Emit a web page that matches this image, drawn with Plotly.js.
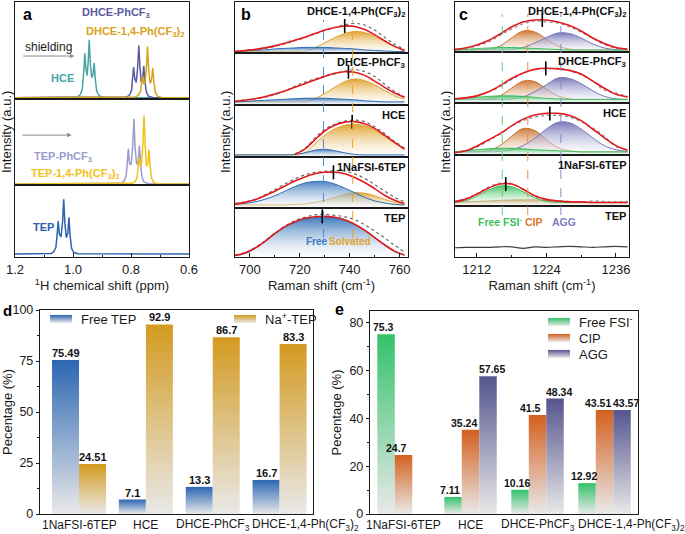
<!DOCTYPE html>
<html><head><meta charset="utf-8">
<script src="https://cdn.plot.ly/plotly-3.0.1.min.js"></script>
<style>html,body{margin:0;padding:0;background:#fff}#chart{width:685px;height:534px}</style>
</head><body><div id="chart"></div>
<script>
// ================= DATA =================
// Panel a: 1H NMR, chemical shift (ppm) and normalized intensity
const aHCE_x  = [1.2,1.0,0.985,0.975,0.968,0.963,0.959,0.955,0.9515,0.948,0.944,0.940,0.9355,0.931,0.927,0.923,0.918,0.910,0.895,0.6];
const aHCE_y  = [0.012,0.013,0.02,0.045,0.10,0.28,0.47,0.30,0.24,0.36,0.61,0.36,0.22,0.25,0.37,0.20,0.08,0.035,0.015,0.012];
const aDPh_x  = [1.2,0.83,0.815,0.805,0.798,0.795,0.791,0.787,0.782,0.777,0.773,0.769,0.7645,0.760,0.756,0.752,0.747,0.740,0.725,0.6];
const aDPh_y  = [0.012,0.013,0.02,0.04,0.09,0.20,0.33,0.21,0.17,0.33,0.55,0.32,0.17,0.21,0.34,0.18,0.07,0.03,0.015,0.012];
const aD14_x  = [1.2,0.80,0.785,0.775,0.767,0.764,0.760,0.756,0.7515,0.747,0.743,0.739,0.734,0.729,0.725,0.721,0.716,0.709,0.694,0.6];
const aD14_y  = [0.012,0.013,0.02,0.04,0.08,0.15,0.23,0.16,0.17,0.32,0.54,0.30,0.16,0.20,0.32,0.17,0.07,0.03,0.015,0.012];
const aTPh_x  = [1.2,0.85,0.835,0.825,0.817,0.813,0.809,0.805,0.7995,0.794,0.790,0.786,0.7805,0.775,0.771,0.767,0.762,0.755,0.74,0.6];
const aTPh_y  = [0.012,0.013,0.02,0.04,0.10,0.25,0.42,0.25,0.24,0.45,0.77,0.44,0.24,0.28,0.46,0.24,0.09,0.035,0.015,0.012];
const aT14_x  = [1.2,0.81,0.795,0.785,0.779,0.776,0.772,0.768,0.7635,0.759,0.755,0.751,0.7465,0.742,0.738,0.734,0.729,0.722,0.707,0.6];
const aT14_y  = [0.012,0.013,0.02,0.04,0.09,0.18,0.32,0.22,0.26,0.47,0.81,0.45,0.22,0.25,0.41,0.22,0.08,0.03,0.015,0.012];
const aTEP_x  = [1.2,1.09,1.075,1.066,1.059,1.055,1.051,1.047,1.0415,1.036,1.032,1.028,1.023,1.018,1.014,1.010,1.005,0.998,0.983,0.6];
const aTEP_y  = [0.04,0.041,0.05,0.075,0.13,0.30,0.50,0.32,0.28,0.48,0.80,0.47,0.27,0.33,0.55,0.30,0.12,0.065,0.045,0.04];

// Panel b: Raman 694-763 cm-1, normalized intensity per sample
const bX = [694,698,702,706,710,714,718,722,726,730,734,738,742,746,750,754,758,762];
const b1Free = [.03,.04,.05,.06,.08,.09,.10,.11,.11,.11,.10,.09,.08,.06,.05,.04,.03,.03];
const b1Solv = [.03,.03,.03,.03,.03,.03,.03,.03,.10,.20,.30,.38,.42,.40,.33,.23,.13,.06];
const b1Fit  = [.03,.05,.07,.10,.14,.19,.25,.31,.38,.45,.50,.53,.52,.46,.36,.24,.13,.05];
const b1Raw  = [.03,.05,.07,.09,.13,.18,.24,.30,.37,.44,.50,.55,.58,.55,.45,.31,.17,.07];
const b2Free = [.06,.07,.08,.09,.10,.11,.12,.13,.13,.13,.12,.11,.10,.08,.07,.06,.06,.06];
const b2Solv = [.06,.06,.06,.06,.06,.06,.06,.06,.12,.22,.34,.45,.50,.47,.39,.28,.18,.11];
const b2Fit  = [.07,.09,.12,.16,.21,.27,.34,.41,.48,.55,.61,.64,.63,.57,.46,.34,.23,.15];
const b2Raw  = [.07,.10,.12,.15,.20,.27,.36,.44,.50,.56,.60,.65,.68,.64,.55,.40,.26,.16];
const b3Free = [.04,.04,.04,.04,.04,.04,.05,.08,.13,.15,.12,.08,.05,.04,.04,.04,.04,.04];
const b3Solv = [.04,.04,.04,.04,.04,.04,.04,.08,.25,.42,.54,.61,.63,.60,.52,.40,.27,.15];
const b3Fit  = [null,null,null,null,null,null,.05,.15,.33,.50,.61,.67,.68,.64,.55,.42,.28,.15];
const b3Raw  = [null,null,null,null,null,null,.06,.16,.36,.53,.63,.69,.71,.68,.58,.45,.30,.17];
const b4Free = [.07,.09,.12,.17,.24,.33,.42,.49,.52,.52,.47,.39,.30,.21,.14,.10,.07,.06];
const b4Solv = [.06,.06,.06,.06,.06,.06,.07,.08,.11,.15,.21,.27,.30,.29,.24,.17,.11,.07];
const b4Fit  = [.08,.11,.16,.24,.33,.43,.53,.61,.67,.70,.70,.67,.60,.50,.38,.25,.15,.09];
const b4Raw  = [.09,.12,.17,.26,.36,.47,.57,.65,.70,.72,.73,.72,.67,.58,.46,.33,.21,.12];
const b5Free = [.03,.07,.17,.31,.47,.61,.71,.78,.81,.82,.80,.75,.66,.54,.39,.24,.11,.04];
const b5Fit  = [.03,.08,.18,.32,.48,.62,.72,.79,.82,.83,.81,.76,.67,.55,.40,.25,.12,.04];
const b5Raw  = [.04,.09,.19,.33,.49,.63,.74,.81,.86,.87,.85,.82,.76,.66,.53,.39,.24,.10];
const bLabels = ['DHCE-1,4-Ph(CF<sub>3</sub>)<sub>2</sub>','DHCE-PhCF<sub>3</sub>','HCE','1NaFSI-6TEP','TEP'];
const bPeakX = [738, 739.5, 741, 733.5, 729];
const bPeakY = [.53, .64, .68, .70, .83];
const bRefX  = [729.5, 741.2];

// Panel c: Raman 1208-1238 cm-1
const cX = [1208,1210,1212,1214,1216,1218,1220,1222,1224,1226,1228,1230,1232,1234,1236,1238];
const c1Free = [.04,.05,.07,.08,.09,.09,.08,.07,.06,.05,.04,.04,.04,.04,.04,.04];
const c1CIP  = [.04,.04,.04,.05,.12,.28,.42,.40,.26,.12,.06,.04,.04,.04,.04,.04];
const c1AGG  = [.04,.04,.04,.04,.04,.05,.09,.18,.29,.38,.37,.28,.16,.08,.05,.04];
const c1Fit  = [.05,.08,.14,.23,.36,.50,.60,.64,.64,.60,.53,.42,.28,.17,.09,.06];
const c1Raw  = [.04,.07,.12,.20,.33,.46,.56,.62,.60,.58,.50,.40,.27,.15,.08,.06];
const c2Free = [.07,.09,.11,.13,.14,.14,.13,.11,.09,.08,.07,.07,.07,.07,.07,.07];
const c2CIP  = [.07,.07,.07,.08,.14,.29,.43,.42,.28,.14,.08,.07,.07,.07,.07,.07];
const c2AGG  = [.07,.07,.07,.07,.07,.08,.12,.22,.36,.49,.48,.38,.24,.13,.08,.07];
const c2Fit  = [.08,.10,.14,.22,.34,.48,.59,.66,.68,.67,.64,.57,.43,.29,.17,.12];
const c2Raw  = [.08,.10,.13,.21,.32,.46,.58,.66,.67,.68,.63,.55,.43,.25,.20,.13];
const c3Free = [.06,.08,.10,.12,.13,.13,.12,.10,.09,.08,.07,.06,.06,.06,.06,.06];
const c3CIP  = [.06,.06,.06,.08,.18,.36,.51,.47,.30,.14,.08,.06,.06,.06,.06,.06];
const c3AGG  = [.06,.06,.06,.06,.07,.10,.18,.32,.50,.63,.62,.50,.33,.18,.10,.07];
const c3Fit  = [.04,.08,.17,.29,.41,.56,.69,.77,.80,.80,.76,.66,.50,.33,.18,.09];
const c3Raw  = [.05,.07,.15,.27,.40,.55,.66,.73,.76,.76,.73,.64,.52,.36,.16,.12];
const c4Free = [.07,.10,.19,.31,.39,.38,.28,.16,.09,.07,.07,.07,.07,.07,.07,.07];
const c4CIP  = [.07,.08,.09,.10,.11,.12,.12,.12,.11,.10,.09,.08,.07,.07,.07,.07];
const c4Fit  = [.08,.13,.23,.35,.43,.43,.33,.20,.13,.10,.08,.08,.07,.07,.07,.07];
const c4Raw  = [.09,.14,.24,.37,.45,.44,.32,.19,.12,.10,.09,.07,.10,.09,.08,.09];
const c5Raw  = [.18,.19,.19,.19,.20,.20,.17,.20,.19,.20,.21,.20,.19,.20,.21,.20];
const cLabels = ['DHCE-1,4-Ph(CF<sub>3</sub>)<sub>2</sub>','DHCE-PhCF<sub>3</sub>','HCE','1NaFSI-6TEP','TEP'];
const cPeakX = [1223.3, 1223.9, 1224.6, 1217];
const cPeakY = [.64, .68, .80, .43];
const cRefX  = [1216.4, 1220.8, 1226.5];

// Panel d: TEP states (%)
const dCats    = ['1NaFSI-6TEP','HCE','DHCE-PhCF<sub>3</sub>','DHCE-1,4-Ph(CF<sub>3</sub>)<sub>2</sub>'];
const dFreeTEP = [75.49, 7.1, 13.3, 16.7];
const dNaTEP   = [24.51, 92.9, 86.7, 83.3];
// Panel e: FSI- states (%)
const eCats    = ['1NaFSI-6TEP','HCE','DHCE-PhCF<sub>3</sub>','DHCE-1,4-Ph(CF<sub>3</sub>)<sub>2</sub>'];
const eFreeFSI = [75.3, 7.11, 10.16, 12.92];
const eCIP     = [24.7, 35.24, 41.5, 43.51];
const eAGG     = [null, 57.65, 48.34, 43.57];

// ================= LAYOUT HELPERS =================
const W = 685, H = 534;
const px = v => v / W;
const py = v => 1 - v / H;
const ref = (l, id) => l + (id === 1 ? '' : id);
const INK = '#1a1a1a';
const layout = {
  width: W, height: H, margin: {l:0, r:0, t:0, b:0},
  paper_bgcolor: '#fff', plot_bgcolor: 'rgba(0,0,0,0)',
  font: {family: '"Liberation Sans", Arial, sans-serif', size: 13, color: INK},
  barmode: 'overlay', showlegend: true,
  annotations: [], shapes: []
};
const FRAME = {showline:true, mirror:true, linecolor:INK, linewidth:1.2, showgrid:false, zeroline:false, fixedrange:true};
function addSpec(id, xd, top, bot, xr, bottomOpts) {
  const k = id === 1 ? '' : String(id);
  layout['xaxis' + k] = Object.assign({}, FRAME, {domain: xd, range: xr, anchor: ref('y', id), ticks: '', showticklabels: false}, bottomOpts || {});
  layout['yaxis' + k] = Object.assign({}, FRAME, {domain: [py(bot), py(top)], range: [0, 1], anchor: ref('x', id), ticks: '', showticklabels: false});
}
function bottomAxis(tickvals, fmt, minorDt, title) {
  return {ticks:'inside', ticklen:4, tickwidth:1, tickcolor:INK, showticklabels:true, tickvals, tickformat: fmt,
    tickfont:{size:13}, minor:{ticks:'inside', ticklen:2, dtick:minorDt, tickcolor:INK},
    title:{text:title, font:{size:13}, standoff:3}};
}
function ann(text, x, y, opts) {
  layout.annotations.push(Object.assign({text, x, y, xref:'paper', yref:'paper', showarrow:false, xanchor:'center', yanchor:'middle'}, opts || {}));
}
const traces = [];
function line(id, x, y, color, width, dash, shape) {
  traces.push({type:'scatter', mode:'lines', x, y, xaxis:ref('x', id), yaxis:ref('y', id),
    line:{color, width, dash: dash || 'solid', shape: shape || 'spline', smoothing: 1},
    showlegend:false, hoverinfo:'skip'});
}
function area(id, x, y, color, rgb, alphaTop) {
  traces.push({type:'scatter', mode:'lines', x, y, xaxis:ref('x', id), yaxis:ref('y', id), fill:'tozeroy',
    line:{color, width:1, shape:'spline', smoothing:1},
    fillgradient:{type:'vertical', colorscale:[[0,'rgba(255,255,255,0.35)'],[1,'rgba(' + rgb + ',' + (alphaTop || 0.92) + ')']]},
    showlegend:false, hoverinfo:'skip'});
}
function peakMark(id, x, y) {
  traces.push({type:'scatter', mode:'markers', x:[x], y:[y], xaxis:ref('x', id), yaxis:ref('y', id),
    marker:{symbol:'line-ns', size:10, color:'#000', line:{color:'#000', width:1.6}}, showlegend:false, hoverinfo:'skip'});
}

// ================= PANEL A =================
const aX = [px(15), px(189)];
const aTB = [[2, 99], [99, 185], [185, 257]];
aTB.forEach((tb, i) => addSpec(i + 1, aX, tb[0], tb[1], [1.2, 0.6],
  i === 2 ? bottomAxis([1.2, 1.0, 0.8, 0.6], '.1f', 0.1, '<sup>1</sup>H chemical shift (ppm)') : null));
const cTeal = '#4aa3a6', cSlate = '#5b5b9d', cGold = '#d9a21c', cLav = '#9c9bcb', cYel = '#f1c21a', cTEPb = '#2d62ad';
line(1, aHCE_x, aHCE_y, cTeal, 1.5, null, 'linear');
line(1, aDPh_x, aDPh_y, cSlate, 1.5, null, 'linear');
line(1, aD14_x, aD14_y, cGold, 1.5, null, 'linear');
line(2, aTPh_x, aTPh_y, cLav, 1.5, null, 'linear');
line(2, aT14_x, aT14_y, cYel, 1.5, null, 'linear');
line(3, aTEP_x, aTEP_y, cTEPb, 1.5, null, 'linear');
const boldLab = (t, c, x, y, o) => ann('<b>' + t + '</b>', px(x), py(y), Object.assign({font:{size:11, color:c}}, o || {}));
boldLab('DHCE-PhCF<sub>3</sub>', cSlate, 116, 13);
boldLab('DHCE-1,4-Ph(CF<sub>3</sub>)<sub>2</sub>', cGold, 135, 32);
boldLab('HCE', cTeal, 62, 78);
boldLab('TEP-PhCF<sub>3</sub>', cLav, 63, 157);
boldLab('TEP-1,4-Ph(CF<sub>3</sub>)<sub>2</sub>', cYel, 75, 174);
boldLab('TEP', cTEPb, 43, 227);
ann('shielding', px(48), py(47), {font:{size:12, color:INK}});
layout.annotations.push({xref:'x', yref:'y', axref:'x', ayref:'y', x:0.995, y:0.443, ax:1.177, ay:0.443, text:'',
  showarrow:true, arrowhead:2, arrowsize:0.9, arrowwidth:1, arrowcolor:'#8c8c8c'});
layout.annotations.push({xref:'x2', yref:'y2', axref:'x2', ayref:'y2', x:1.005, y:0.58, ax:1.18, ay:0.58, text:'',
  showarrow:true, arrowhead:2, arrowsize:0.9, arrowwidth:1, arrowcolor:'#8c8c8c'});
ann('<b>a</b>', px(27), py(15), {font:{size:16, color:'#000'}});
ann('Intensity (a.u.)', px(7), py(132), {textangle:-90, font:{size:13}});

// ================= PANEL B =================
const bXD = [px(235), px(408)];
const bTB = [[2, 53], [53, 105], [105, 157], [157, 208], [208, 257]];
const bRange = [694, 763.4];
bTB.forEach((tb, i) => addSpec(4 + i, bXD, tb[0], tb[1], bRange,
  i === 4 ? bottomAxis([700, 720, 740, 760], 'd', 10, 'Raman shift (cm<sup>-1</sup>)') : null));
const BLUE = '#2e6db4', BLUE_RGB = '46,109,180', ORG = '#dca12b', ORG_RGB = '222,160,40', RED = '#e31a1c', RAW = '#6a6a6a';
const bSets = [[b1Free,b1Solv,b1Fit,b1Raw],[b2Free,b2Solv,b2Fit,b2Raw],[b3Free,b3Solv,b3Fit,b3Raw],[b4Free,b4Solv,b4Fit,b4Raw],[b5Free,null,b5Fit,b5Raw]];
bSets.forEach((s, i) => {
  const id = 4 + i;
  if (s[1]) area(id, bX, s[1], ORG, ORG_RGB, 0.95);
  area(id, bX, s[0], BLUE, BLUE_RGB, i === 3 ? 0.85 : 0.92);
  line(id, bX, s[3], RAW, 1.2, 'dot');
  line(id, bX, s[2], RED, 1.6);
  peakMark(id, bPeakX[i], bPeakY[i]);
  ann('<b>' + bLabels[i] + '</b>', px(407), py(bTB[i][0] + 10), {xanchor:'right', font:{size:11, color:'#111'}});
});
const bRefCol = ['#4a8fd6', '#f0a21e'];
bRefX.forEach((x, j) => layout.shapes.push({type:'line', xref:'x4', yref:'paper', x0:x, x1:x, y0:py(238), y1:py(20),
  line:{color:bRefCol[j], width:1, dash:'dash'}}));
layout.annotations.push({xref:'x8', yref:'y8', x:727, y:0.32, text:'<b>Free</b>', showarrow:false, font:{size:10, color:'#3a7cc4'}});
layout.annotations.push({xref:'x8', yref:'y8', x:740.3, y:0.32, text:'<b>Solvated</b>', showarrow:false, font:{size:10, color:'#e0a42a'}});
ann('<b>b</b>', px(246), py(15), {font:{size:16, color:'#000'}});
ann('Intensity (a.u.)', px(226), py(132), {textangle:-90, font:{size:13}});

// ================= PANEL C =================
const cXD = [px(455), px(629)];
const cTB = [[2, 52], [52, 103], [103, 155], [155, 206], [206, 257]];
const cRange = [1208.25, 1238.25];
cTB.forEach((tb, i) => addSpec(9 + i, cXD, tb[0], tb[1], cRange,
  i === 4 ? bottomAxis([1212, 1224, 1236], 'd', 6, 'Raman shift (cm<sup>-1</sup>)') : null));
const GRN = '#3cbf5e', GRN_RGB = '55,190,90', CIPC = '#c8702c', CIP_RGB = '200,110,40', AGGC = '#7a78bd', AGG_RGB = '110,108,180', RAWC = '#8a8aa6';
const cSets = [[c1Free,c1CIP,c1AGG,c1Fit,c1Raw],[c2Free,c2CIP,c2AGG,c2Fit,c2Raw],[c3Free,c3CIP,c3AGG,c3Fit,c3Raw],[c4Free,c4CIP,null,c4Fit,c4Raw]];
cSets.forEach((s, i) => {
  const id = 9 + i;
  area(id, cX, s[1], CIPC, CIP_RGB, 0.92);
  if (s[2]) area(id, cX, s[2], AGGC, AGG_RGB, 0.92);
  area(id, cX, s[0], GRN, GRN_RGB, 0.92);
  line(id, cX, s[4], RAWC, 1.2, 'dot');
  line(id, cX, s[3], RED, 1.6);
  peakMark(id, cPeakX[i], cPeakY[i]);
});
line(13, cX, c5Raw, '#3c3c3c', 1.2, null, 'spline');
cTB.forEach((tb, i) => ann('<b>' + cLabels[i] + '</b>', px(628), py(tb[0] + 10), {xanchor:'right', font:{size:11, color:'#111'}}));
const cRefCol = ['#5fcf80', '#f08a3a', '#8a88cc'];
cRefX.forEach((x, j) => layout.shapes.push({type:'line', xref:'x9', yref:'paper', x0:x, x1:x, y0:py(215), y1:py(14),
  line:{color:cRefCol[j], width:1, dash:'dash'}}));
layout.annotations.push({xref:'x13', yref:'y13', x:1216.0, y:0.69, text:'<b>Free FSI<sup>-</sup></b>', showarrow:false, font:{size:10.5, color:'#3cbf5e'}});
layout.annotations.push({xref:'x13', yref:'y13', x:1221.9, y:0.69, text:'<b>CIP</b>', showarrow:false, font:{size:10.5, color:'#e0762a'}});
layout.annotations.push({xref:'x13', yref:'y13', x:1227.0, y:0.69, text:'<b>AGG</b>', showarrow:false, font:{size:10.5, color:'#7f7dc2'}});
ann('<b>c</b>', px(463), py(15), {font:{size:16, color:'#000'}});
ann('Intensity (a.u.)', px(446), py(132), {textangle:-90, font:{size:13}});

// ================= PANELS D / E (bars) =================
const barAxisX = (xd, rng, yid) => Object.assign({}, FRAME, {domain:xd, type:'category', range:rng, anchor:yid, ticks:'', showticklabels:false});
const barAxisY = (yd, rng, tv, mdt, xid) => Object.assign({}, FRAME, {domain:yd, range:rng, anchor:xid, tickvals:tv,
  ticks:'outside', ticklen:3, tickcolor:INK, tickfont:{size:12.5}, minor:{ticks:'outside', ticklen:2, dtick:mdt, tickcolor:INK},
  title:{text:'Pecentage (%)', font:{size:13}, standoff:4}});
// category labels written under each group (the last one sits to the right, as in the figure)
function catLabels(id, cats, lastShift) {
  cats.forEach((c, i) => {
    const last = i === cats.length - 1;
    layout.annotations.push({xref:'x' + id, yref:'paper', x: last ? i - lastShift : i, y:py(525), text:c,
      showarrow:false, xanchor: last ? 'left' : 'center', yanchor:'middle', font:{size:12, color:INK}});
  });
}
function bar(id, cats, vals, name, col, meta, width, offset, legend, labelShift, labelSize) {
  traces.push({type:'bar', x:cats, y:vals, xaxis:'x' + id, yaxis:'y' + id, name, meta, legend,
    width, offset, marker:{color:col, line:{width:0}}, textposition:'none', hoverinfo:'skip'});
  vals.forEach((v, i) => {
    if (v == null) return;
    layout.annotations.push({xref:'x' + id, yref:'y' + id, x:i + offset + width / 2, y:v, text:'<b>' + v + '</b>',
      showarrow:false, xanchor:'center', yanchor:'bottom', xshift:labelShift, yshift:-1, font:{size:labelSize, color:'#111'}});
  });
}
layout.xaxis14 = barAxisX([px(40), px(313)], [-0.584, 3.5], 'y14');
layout.yaxis14 = barAxisY([py(514), py(310)], [0, 100], [0, 25, 50, 75, 100], 12.5, 'x14');
bar(14, dCats, dFreeTEP, 'Free TEP', '#2e6ab3', 'gFree', 0.404, -0.404, 'legend', 0, 11);
bar(14, dCats, dNaTEP, 'Na<sup>+</sup>-TEP', '#d39a1f', 'gNa', 0.404, 0, 'legend2', 0, 11);
catLabels(14, dCats, 0.44);
ann('<b>d</b>', px(7), py(310), {font:{size:15, color:'#000'}});

layout.xaxis15 = barAxisX([px(370), px(638)], [-0.5, 3.5], 'y15');
layout.yaxis15 = barAxisY([py(514), py(311)], [0, 85], [0, 20, 40, 60, 80], 10, 'x15');
bar(15, eCats, eFreeFSI, 'Free FSI<sup>-</sup>', '#37c06a', 'gFSI', 0.261, -0.391, 'legend3', -3, 10.5);
bar(15, eCats, eCIP, 'CIP', '#d4601e', 'gCIP', 0.261, -0.13, 'legend3', -7, 10.5);
bar(15, eCats, eAGG, 'AGG', '#56568f', 'gAGG', 0.261, 0.131, 'legend3', 4, 10.5);
catLabels(15, eCats, 0.42);
ann('<b>e</b>', px(339), py(309), {font:{size:16, color:'#000'}});

// legends
const LEG = {xanchor:'left', yanchor:'top', bgcolor:'rgba(0,0,0,0)', borderwidth:0, font:{size:13, color:INK}, itemwidth:30, tracegroupgap:0};
layout.legend  = Object.assign({}, LEG, {x:px(41), y:py(304)});
layout.legend2 = Object.assign({}, LEG, {x:px(225), y:py(304)});
layout.legend3 = Object.assign({}, LEG, {x:px(539), y:py(307)});

// ================= GRADIENT BARS (post-render styling) =================
const gradTop = {gFree:'#2c66b2', gNa:'#d39a1f', gFSI:'#33c26a', gCIP:'#d4601e', gAGG:'#54548e'};
function injectGradients(gd) {
  const ns = 'http://www.w3.org/2000/svg';
  const svg = gd.querySelector('svg.main-svg');
  let defs = svg.querySelector('defs');
  if (!defs) { defs = document.createElementNS(ns, 'defs'); svg.insertBefore(defs, svg.firstChild); }
  Object.keys(gradTop).forEach(id => {
    if (document.getElementById(id)) return;
    const lg = document.createElementNS(ns, 'linearGradient');
    lg.setAttribute('id', id); lg.setAttribute('x1', '0'); lg.setAttribute('y1', '0'); lg.setAttribute('x2', '0'); lg.setAttribute('y2', '1');
    [[0, gradTop[id]], [1, '#e9e9e9']].forEach(s => {
      const st = document.createElementNS(ns, 'stop');
      st.setAttribute('offset', s[0]); st.setAttribute('stop-color', s[1]);
      lg.appendChild(st);
    });
    defs.appendChild(lg);
  });
  gd.querySelectorAll('g.trace.bars').forEach(g => {
    const cd = g.__data__; const tr = cd && cd[0] && cd[0].trace;
    if (tr && tr.meta && gradTop[tr.meta]) g.querySelectorAll('g.point path').forEach(p => { p.style.fill = 'url(#' + tr.meta + ')'; });
  });
  gd.querySelectorAll('g.traces').forEach(g => {
    const cd = g.__data__; const tr = cd && cd[0] && cd[0].trace;
    if (!tr || !tr.meta || !gradTop[tr.meta]) return;
    g.querySelectorAll('.legendpoints path').forEach(p => {
      p.setAttribute('d', 'M11,4H-11V-4H11Z');
      p.style.fill = 'url(#' + tr.meta + ')'; p.style.stroke = 'none';
    });
  });
  // tighter vertical spacing of the stacked legend in panel e
  const lg3 = gd.querySelector('g.legend3');
  if (lg3) {
    let y0 = null;
    lg3.querySelectorAll('g.traces').forEach((g, i) => {
      const m = /translate\(\s*([-\d.]+)[ ,]+([-\d.]+)\s*\)/.exec(g.getAttribute('transform') || '');
      if (!m) return;
      if (y0 === null) y0 = +m[2];
      g.setAttribute('transform', 'translate(' + m[1] + ',' + (y0 + i * 16) + ')');
    });
  }
}

Plotly.newPlot('chart', traces, layout, {staticPlot:true, displayModeBar:false}).then(injectGradients);
</script>
</body></html>
